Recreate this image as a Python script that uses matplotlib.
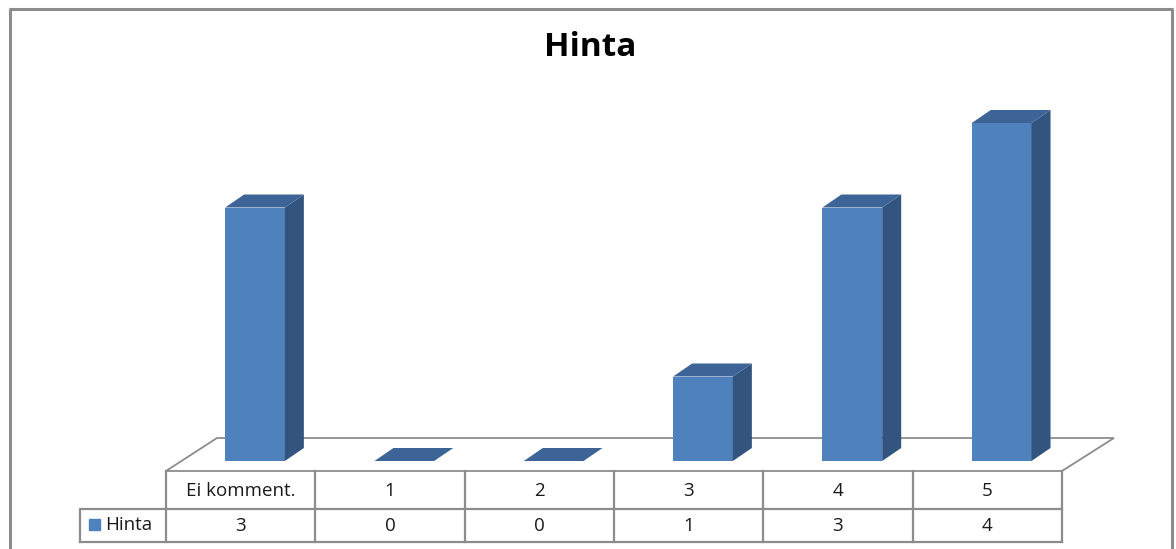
import matplotlib.pyplot as plt
from matplotlib.patches import Polygon, Rectangle

# data
categories = ["Ei komment.", "1", "2", "3", "4", "5"]
series_name = "Hinta"
values = [3, 0, 0, 1, 3, 4]

front_c = "#4F81BD"
side_c = "#32547F"
top_c = "#3C6496"
grid_c = "#8C8C8C"

W, H = 1176, 549
fig = plt.figure(figsize=(W / 100, H / 100), dpi=100)

# background axes in pixel units for frame, floor and table
bg = fig.add_axes([0, 0, 1, 1])
bg.set_xlim(0, W)
bg.set_ylim(H, 0)
bg.axis("off")

# chart frame (no bottom edge visible)
bg.plot([10, 10, 1172, 1172], [H, 9, 9, H], color=grid_c, lw=2.2)

bg.text(590, 48, "Hinta", ha="center", va="center", fontsize=24,
        fontweight="bold", family="Open Sans")

# floor
bg.add_patch(Polygon([[166, 471], [217, 438], [1114, 438], [1062, 471]],
                     closed=True, fill=False, ec=grid_c, lw=1.3))

# data table
col_x = [166 + i * 149.33 for i in range(len(categories) + 1)]
for x in col_x:
    bg.plot([x, x], [471, 542], color=grid_c, lw=1.6)
bg.plot([166, 1062], [509, 509], color=grid_c, lw=1.6)
bg.plot([80, 1062], [542, 542], color=grid_c, lw=1.6)
bg.plot([80, 80, 166], [542, 509, 509], color=grid_c, lw=1.6)
bg.add_patch(Rectangle((89, 519), 11, 11, color=front_c))
bg.text(105, 525, series_name, ha="left", va="center", fontsize=13.5,
        family="Open Sans", color="#1A1A1A")
for i, (c, v) in enumerate(zip(categories, values)):
    cx = (col_x[i] + col_x[i + 1]) / 2
    bg.text(cx, 491, c, ha="center", va="center", fontsize=13.5,
            family="Open Sans", color="#1A1A1A")
    bg.text(cx, 526, str(v), ha="center", va="center", fontsize=13.5,
            family="Open Sans", color="#1A1A1A")

# bar axes: category index vs value
step = 149.33
left_px = 255 - 0.5 * step
ax = fig.add_axes([left_px / W, (H - 461) / H, 6 * step / W, 4.5 * 84.5 / H])
ax.set_xlim(-0.5, 5.5)
ax.set_ylim(0, 4.5)
ax.axis("off")
ax.patch.set_alpha(0)

bw = 0.4
dx = 19 / step
dy = 13 / 84.5
xs = list(range(len(values)))
ax.bar(xs, values, width=bw, color=front_c, linewidth=0, zorder=2)
for x, v in zip(xs, values):
    l, r = x - bw / 2, x + bw / 2
    if v > 0:
        ax.add_patch(Polygon([[r, 0], [r + dx, dy], [r + dx, v + dy], [r, v]],
                             closed=True, color=side_c, lw=0, zorder=2))
    ax.add_patch(Polygon([[l, v], [l + dx, v + dy], [r + dx, v + dy], [r, v]],
                         closed=True, color=top_c, lw=0, zorder=2))

plt.savefig("out.png", dpi=100)
